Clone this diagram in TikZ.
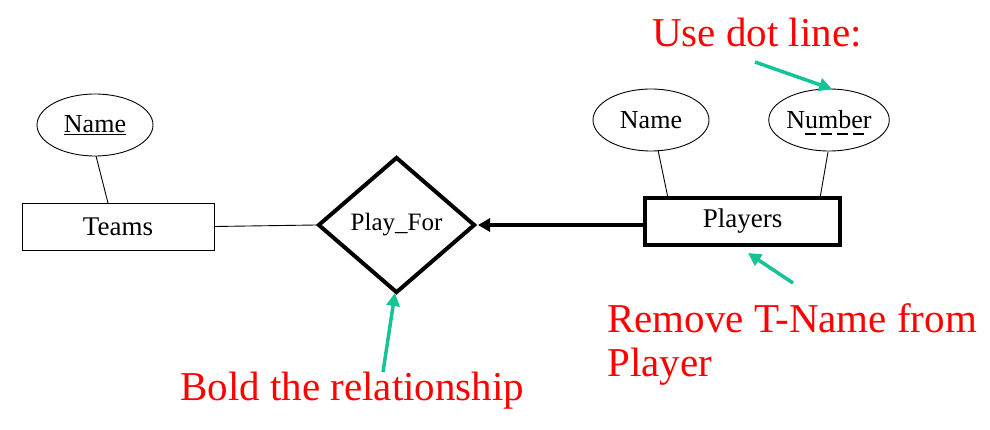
\documentclass[tikz,border=0pt]{standalone}
\usepackage{fontspec}
\setmainfont{Liberation Serif}
\usetikzlibrary{shapes.geometric,arrows.meta}
\definecolor{notegreen}{RGB}{20,195,150}
\tikzset{
  attr/.style={draw, ellipse, line width=0.9pt, inner sep=0pt, minimum width=116pt, minimum height=62pt, font=\fontsize{26}{30}\selectfont},
  ent/.style={draw, rectangle, inner sep=0pt, font=\fontsize{27}{30}\selectfont},
  note/.style={text=red, font=\fontsize{41}{46}\selectfont, inner sep=0pt},
  pointer/.style={draw=notegreen, line width=3.5pt, -{Triangle[length=13pt,width=13pt]}},
  thinlink/.style={line width=0.9pt}
}
\begin{document}
\begin{tikzpicture}[x=1pt,y=-1pt]
\useasboundingbox (0,0) rectangle (990,430);
% left entity
\node[attr] (tname) at (95,125) {\underline{Name}};
\node[ent, line width=0.9pt, minimum width=192pt, minimum height=47pt] (teams) at (118,226.5) {Teams};
% relationship
\node[draw, diamond, line width=4pt, inner sep=0pt, minimum width=157pt, minimum height=136pt, font=\fontsize{25}{30}\selectfont] (play) at (396.5,225) {Play\_For};
% right entity
\node[ent, line width=4.5pt, minimum width=195pt, minimum height=47pt] (players) at (742.5,221.5) {\raisebox{-2pt}{Players}};
\node[attr] (pname) at (651,120) {Name};
\node[attr] (pnum) at (829,120) {Number};
\coordinate (dashA) at (805,134);
\coordinate (dashB) at (864,134);
\draw[line width=2.8pt, dash pattern=on 11pt off 5pt] (dashA) -- (dashB);
% connectors
\coordinate (t1) at (96,156);
\coordinate (t2) at (108,203);
\draw[thinlink] (t1) -- (t2);
\coordinate (p1) at (658,150);
\coordinate (p2) at (668,198);
\draw[thinlink] (p1) -- (p2);
\coordinate (n1) at (828,152);
\coordinate (n2) at (820,198);
\draw[thinlink] (n1) -- (n2);
\draw[thinlink] (teams.east) -- (play.west);
\draw[line width=4.5pt, -{Triangle[length=12pt,width=13pt]}, shorten >=1pt] (players.west |- play.east) -- (play.east);
% notes
\node[note, anchor=west] (usedot) at (652,33) {Use dot line:};
\node[note, anchor=west] (remove1) at (607,318) {Remove T-Name from};
\node[note, anchor=west] (remove2) at (607,367) {Player};
\node[note, anchor=west] (bold) at (180,391) {Bold the relationship};
\coordinate (g1s) at (755,62);
\coordinate (g1e) at (832,89);
\draw[pointer] (g1s) -- (g1e);
\coordinate (g2s) at (793,283);
\coordinate (g2e) at (748,253);
\draw[pointer] (g2s) -- (g2e);
\coordinate (g3s) at (383,372);
\coordinate (g3e) at (395,293);
\draw[pointer] (g3s) -- (g3e);
\end{tikzpicture}
\end{document}
